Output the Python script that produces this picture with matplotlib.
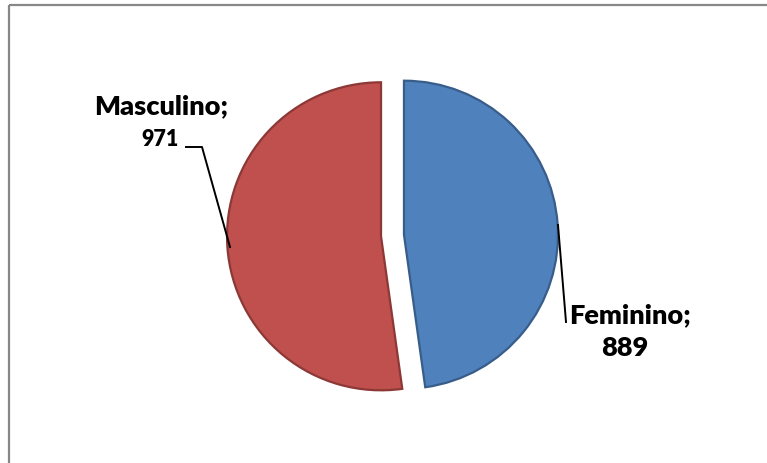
import numpy as np
import matplotlib
matplotlib.use('Agg')
import matplotlib.pyplot as plt

plt.rcParams['font.family'] = ['Lato', 'DejaVu Sans']

# data
categories = ['Feminino', 'Masculino']
values = [889, 971]
colors = ['#4F81BD', '#C0504D']
edges = ['#385D8A', '#8C3836']

W, H = 767, 464


def py(y):
    # image y (down) -> data y (up)
    return H - y


fig = plt.figure(figsize=(W / 100, H / 100), dpi=100)
ax = fig.add_axes([0, 0, 1, 1])

# explode is in data units here (not scaled by radius)
wedges, _ = ax.pie(values, colors=colors, startangle=90, counterclock=False,
                   explode=[11.5, 11.5], radius=154, center=(392.5, py(236.5)))
for w, ec in zip(wedges, edges):
    w.set_edgecolor(ec)
    w.set_linewidth(1.6)

ax.set_xlim(0, W)
ax.set_ylim(0, H)
ax.set_aspect('equal')
ax.set_axis_off()

# chart area border (only top and left edges fall inside the picture)
ax.plot([9, W + 5], [py(6), py(6)], color='#878787', lw=1.6, solid_capstyle='butt')
ax.plot([9, 9], [py(6), py(H + 5)], color='#878787', lw=1.6, solid_capstyle='butt')

# leader lines
ax.plot([186, 202, 230], [py(148), py(148), py(248)], color='black', lw=1.4)
ax.plot([558, 566], [py(226), py(323)], color='black', lw=1.4)

# labels
ax.text(161, py(106), categories[1] + ';', ha='center', va='center',
        fontsize=19.5, fontweight='heavy')
ax.text(160, py(139), str(values[1]), ha='center', va='center',
        fontsize=15.5, fontweight='heavy')
ax.text(630, py(315), categories[0] + ';', ha='center', va='center',
        fontsize=19.5, fontweight='heavy')
ax.text(625, py(348), str(values[0]), ha='center', va='center',
        fontsize=19.5, fontweight='heavy')

fig.savefig('out.png', dpi=100)
